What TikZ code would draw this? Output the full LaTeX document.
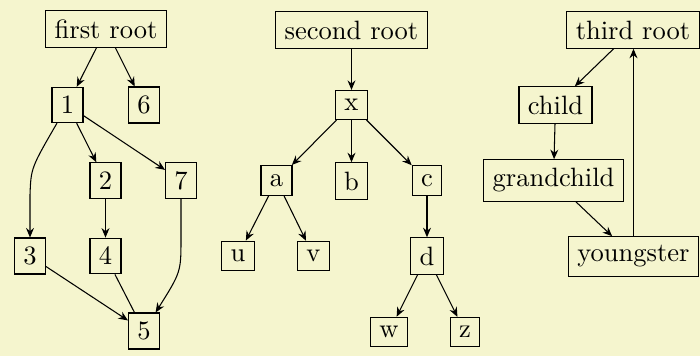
\documentclass[tikz,border=0pt]{standalone}
\usetikzlibrary{arrows.meta}
\definecolor{bgcol}{RGB}{245,245,206}
\begin{document}
\begin{tikzpicture}[x=0.013245cm,y=-0.013245cm,
  box/.style={draw,inner sep=0.3333em},
  >={Stealth[length=3.6pt,width=3pt,inset=1.2pt]},
  every path/.style={line width=0.4pt}]
\fill[bgcol] (0,0) rectangle (700,356);
\useasboundingbox (0,0) rectangle (700,356);
% first tree
\node[box] (fr) at (106,29) {first root};
\node[box] (n1) at (67.5,105) {1};
\node[box] (n6) at (144,105) {6};
\node[box] (n2) at (105.5,180.5) {2};
\node[box] (n7) at (181,180.5) {7};
\node[box] (n3) at (30,256) {3};
\node[box] (n4) at (105.5,256) {4};
\node[box] (n5) at (144,331) {5};
\coordinate (d13) at (30,195);
\coordinate (d75) at (181,238);
\draw[->] (fr) -- (n1);
\draw[->] (fr) -- (n6);
\draw[->] (n1) -- (n2);
\draw[->] (n1) -- (n7);
\draw[->] (n1) .. controls (31,168) .. (d13) -- (n3);
\draw[->] (n2) -- (n4);
\draw[->] (n3) -- (n5);
\draw (n4) -- (n5);
\draw[->] (n7) -- (d75) .. controls (181,272) .. (n5);
% second tree
\node[box] (sr) at (351.5,30) {second root};
\node[box] (x) at (351.5,105) {x};
\node[box] (a) at (276.5,180.5) {a};
\node[box] (b) at (351.5,181) {b};
\node[box] (c) at (427,180.5) {c};
\node[box] (u) at (238,256) {u};
\node[box] (v) at (313.5,256) {v};
\node[box] (d) at (427,256) {d};
\node[box] (w) at (389,332) {w};
\node[box] (z) at (465,332) {z};
\draw[->] (sr) -- (x);
\draw[->] (x) -- (a);
\draw[->] (x) -- (b);
\draw[->] (x) -- (c);
\draw[->] (a) -- (u);
\draw[->] (a) -- (v);
\draw[->] (c) -- (d);
\draw[->] (d) -- (w);
\draw[->] (d) -- (z);
% third tree
\node[box] (tr) at (633,30) {third root};
\node[box] (ch) at (555.5,105) {child};
\node[box] (gc) at (553.5,180.5) {grandchild};
\node[box] (yo) at (633.5,256.5) {youngster};
\draw[->] (tr) -- (ch);
\draw[->] (ch) -- (gc);
\draw[->] (gc) -- (yo);
\draw[->] (yo) -- (yo |- tr.south);
\end{tikzpicture}
\end{document}
